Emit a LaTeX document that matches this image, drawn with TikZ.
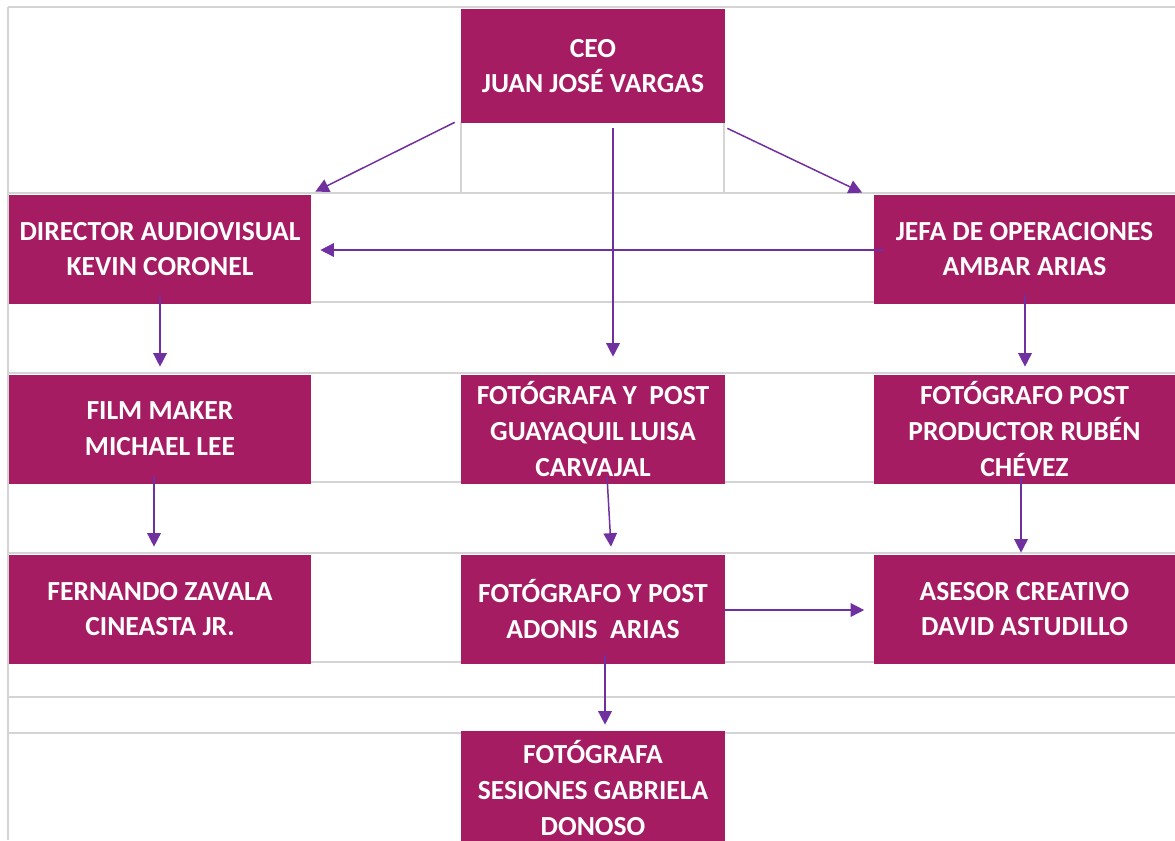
\documentclass[tikz,border=0pt]{standalone}
\usepackage{fontspec}
\setmainfont{Carlito}
\usepackage{tikz}
\usetikzlibrary{arrows.meta}
\usetikzlibrary{calc}

\definecolor{plum}{HTML}{A61C62}
\definecolor{linkviolet}{HTML}{7030A0}
\definecolor{cellgray}{HTML}{D4D4D4}

\tikzset{
  role/.style={rectangle, fill=plum, text=white, align=center, inner sep=0pt,
    font=\fontsize{15.7}{20.4}\selectfont\bfseries},
  wide/.style={role, minimum width=6.04cm, minimum height=2.18cm},
  narrow/.style={role, minimum width=5.28cm, minimum height=2.18cm},
  link/.style={-{Triangle[length=0.27cm, width=0.27cm]}, draw=linkviolet, line width=0.85pt},
  rule/.style={draw=cellgray, line width=1.2pt}
}

\begin{document}
\begin{tikzpicture}[x=0.02cm, y=-0.02cm]
        \useasboundingbox (0,0) rectangle (1175,840);
        % sheet grid behind the chart
        \foreach \r in {7,193,302,373,482,553,662,697,733}
            \draw [rule] (8,\r) -- (1175,\r);
        \draw [rule] (8,7) -- (8,840);
        \draw [rule] (461,122) -- (461,193);
        \draw [rule] (724,122) -- (724,193);

        \node [narrow, minimum height=2.28cm] (ceo) at (593,66) {CEO\\JUAN JOSÉ VARGAS};
        \node [wide] (dir) at (160,249) {DIRECTOR AUDIOVISUAL\\KEVIN CORONEL};
        \node [wide] (jefa) at (1024.5,249) {JEFA DE OPERACIONES\\AMBAR ARIAS};
        \node [wide] (film) at (160,429) {FILM MAKER\\MICHAEL LEE};
        \node [narrow] (luisa) at (593,429) {FOTÓGRAFA Y\ \ POST\\GUAYAQUIL LUISA\\CARVAJAL};
        \node [wide] (ruben) at (1024.5,429) {FOTÓGRAFO POST\\PRODUCTOR RUBÉN\\CHÉVEZ};
        \node [wide] (fernando) at (160,609) {FERNANDO ZAVALA\\CINEASTA JR.};
        \node [narrow] (adonis) at (593,609) {FOTÓGRAFO Y POST\\ADONIS\ \ ARIAS};
        \node [wide] (asesor) at (1024.5,609) {ASESOR CREATIVO\\DAVID ASTUDILLO};
        \node [narrow, minimum height=2.28cm] (gabriela) at (593,788) {FOTÓGRAFA\\SESIONES GABRIELA\\DONOSO};

        \draw [link] ($(ceo.south west)+(-6,-1)$) -- ($(dir.north east)+(4,-2.5)$);
        \draw [link] ($(ceo.south east)+(2,5)$) -- ($(jefa.north west)+(-11,-1.5)$);
        \draw [link] ($(ceo.south)+(20,5)$) -- ($(luisa.north)+(20,-17.5)$);
        \draw [link] ($(jefa.west)+(11,1)$) -- ($(dir.east)+(9,1)$);
        \draw [link] ($(dir.south)+(0,-8.5)$) -- ($(film.north)+(0,-7.5)$);
        \draw [link] ($(jefa.south)+(0.5,-8.5)$) -- ($(ruben.north)+(0.5,-7.5)$);
        \draw [link] ($(film.south)+(-6,-7.5)$) -- ($(fernando.north)+(-6,-7.5)$);
        \draw [link] ($(luisa.south)+(14,-7.5)$) -- ($(adonis.north)+(18,-7.5)$);
        \draw [link] ($(ruben.south)+(-3.5,-7.5)$) -- ($(asesor.north)+(-3.5,-1.5)$);
        \draw [link] ($(adonis.east)+(0,1)$) -- ($(asesor.west)+(-9,1)$);
        \draw [link] ($(adonis.south)+(12,-8.5)$) -- ($(gabriela.north)+(12,-6)$);
    \end{tikzpicture}
\end{document}
